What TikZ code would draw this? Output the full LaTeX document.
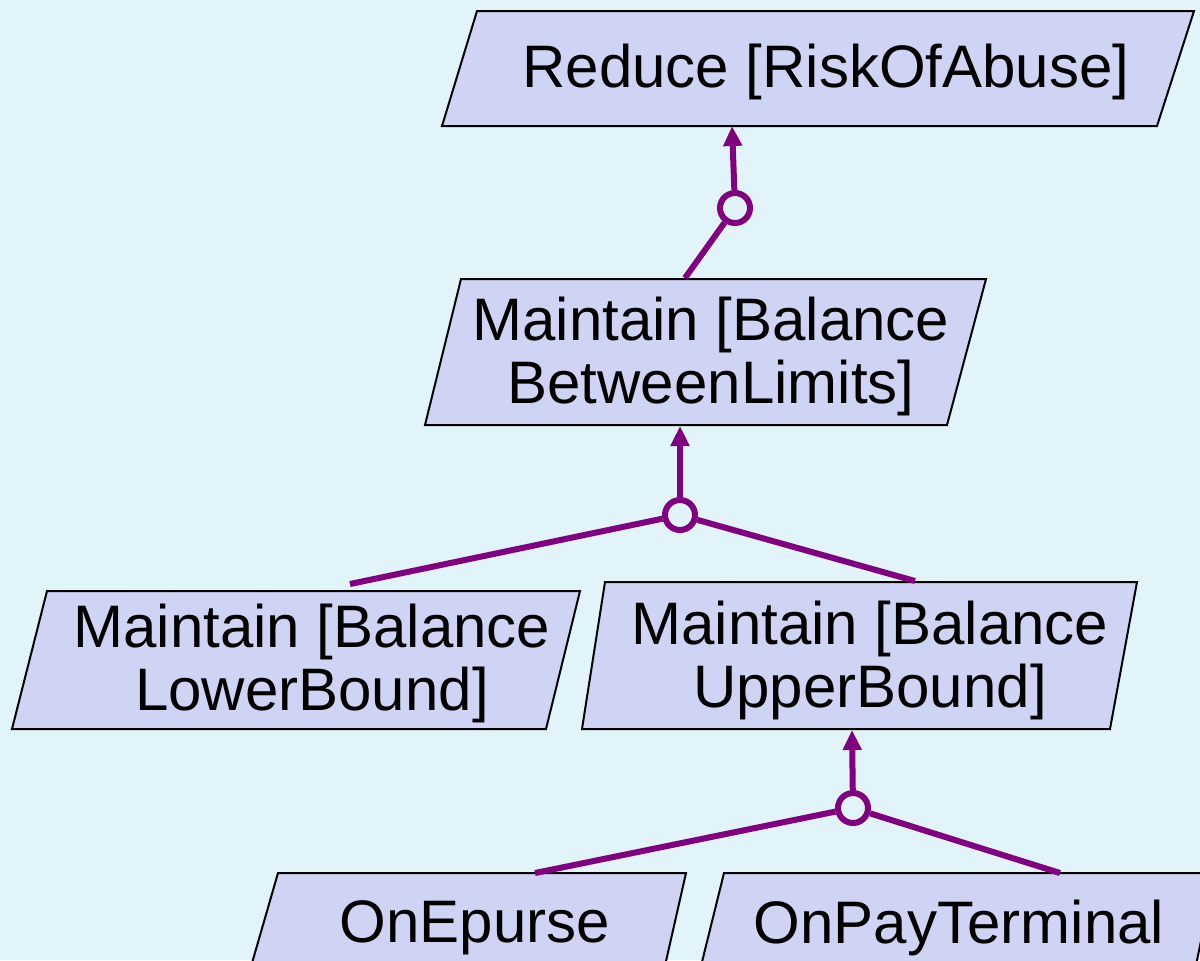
\documentclass[tikz,border=0pt]{standalone}
\usepackage{fontspec}
\setmainfont{Liberation Sans}
\usetikzlibrary{arrows.meta}
\definecolor{bgblue}{RGB}{224,244,250}
\definecolor{goalfill}{RGB}{208,212,244}
\definecolor{linkpurple}{RGB}{128,0,128}
\begin{document}
\begin{tikzpicture}[x=0.5pt,y=-0.5pt,
  goal/.style={draw=black,line width=1pt,fill=goalfill,line join=miter},
  goaltext/.style={font=\fontsize{30}{31.5}\selectfont,align=center,inner sep=0pt},
  andnode/.style={circle,draw=linkpurple,fill=bgblue,line width=3pt,minimum size=15pt,inner sep=0pt},
  link/.style={draw=linkpurple,line width=3pt},
  refine/.style={link,-{Triangle[width=9pt,length=10pt]}}]
\fill[bgblue] (0,0) rectangle (1200,960);
\useasboundingbox (0,0) rectangle (1200,960);
\begin{scope}
\clip (0,0) rectangle (1200,960);
% goal parallelograms
\path[goal] (477,11) -- (1194,11) -- (1157,126) -- (442,126) -- cycle;
\path[goal] (461,279) -- (986,279) -- (947,425) -- (425,425) -- cycle;
\path[goal] (47,591) -- (580,591) -- (546,729) -- (12,729) -- cycle;
\path[goal] (605,582) -- (1137,582) -- (1110,729) -- (582,729) -- cycle;
\path[goal] (278,873) -- (686,873) -- (664,970) -- (250,970) -- cycle;
\path[goal] (724,873) -- (1215,873) -- (1195,970) -- (700,970) -- cycle;
% goal labels
\node[goaltext] (abuse) at (826,72) {Reduce [RiskOfAbuse]};
\node[goaltext] (limits) at (711,356) {Maintain [Balance\\BetweenLimits]};
\node[goaltext] (lower) at (312,663) {Maintain [Balance\\LowerBound]};
\node[goaltext] (upper) at (870,660) {Maintain [Balance\\UpperBound]};
\node[goaltext] (epurse) at (475,928) {OnEpurse};
\node[goaltext] (terminal) at (959,928) {OnPayTerminal};
% connector end points on the goal outlines
\coordinate (abuseIn) at (732,126);
\coordinate (limitsOut) at (685,278);
\coordinate (limitsIn) at (680,426);
\coordinate (lowerOut) at (350,584);
\coordinate (upperOut) at (915,581);
\coordinate (upperIn) at (852,730);
\coordinate (epurseOut) at (535,873);
\coordinate (terminalOut) at (1060,873);
% refinement circles
\node[andnode] (r1) at (735,208) {};
\node[andnode] (r2) at (680,515) {};
\node[andnode] (r3) at (853,808) {};
% refinement links
\draw[refine] (r1) -- (abuseIn);
\draw[link] (r1) -- (limitsOut);
\draw[refine] (r2) -- (limitsIn);
\draw[link] (r2) -- (lowerOut);
\draw[link] (r2) -- (upperOut);
\draw[refine] (r3) -- (upperIn);
\draw[link] (r3) -- (epurseOut);
\draw[link] (r3) -- (terminalOut);
\end{scope}
\end{tikzpicture}
\end{document}
